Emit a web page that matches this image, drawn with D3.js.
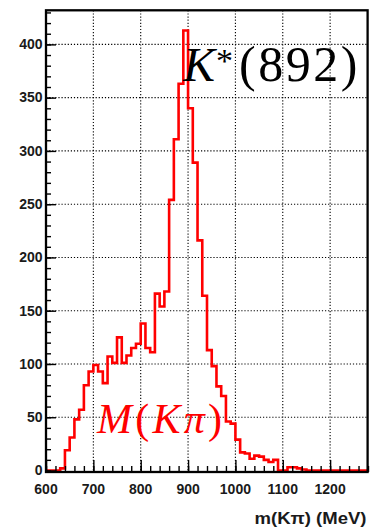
<!DOCTYPE html>
<html>
<head>
<meta charset="utf-8">
<script src="https://cdn.jsdelivr.net/npm/d3@7"></script>
<style>
  html, body { margin: 0; padding: 0; background: #fff; }
  svg { display: block; }
</style>
</head>
<body>
<svg id="chart" width="374" height="529"></svg>
<script>
// Lower edges of the 10 MeV mass bins (MeV)
const massBins = [
  600, 610, 620, 630, 640, 650, 660, 670, 680, 690,
  700, 710, 720, 730, 740, 750, 760, 770, 780, 790,
  800, 810, 820, 830, 840, 850, 860, 870, 880, 890,
  900, 910, 920, 930, 940, 950, 960, 970, 980, 990,
  1000, 1010, 1020, 1030, 1040, 1050, 1060, 1070, 1080, 1090,
  1100, 1110, 1120, 1130, 1140, 1150, 1160, 1170, 1180, 1190,
  1200, 1210, 1220, 1230, 1240, 1250, 1260, 1270
];
// Entries per bin
const counts = [
  0, 0, 0, 2, 19, 31, 48, 57, 80, 93,
  99, 93, 82, 107, 101, 125, 101, 108, 115, 119,
  138, 115, 111, 166, 154, 168, 254, 311, 363, 413,
  340, 289, 216, 164, 113, 98, 79, 70, 46, 44,
  29, 17, 16, 11, 14, 13, 10, 8, 10, 0,
  0, 3, 3, 2, 1, 0, 0, 0, 0, 0,
  0, 0, 0, 0, 0, 0, 0, 0
];
const binWidth = 10;
const xDomain = [600, 1280];
const yDomain = [0, 432];
const xTicks = [600, 700, 800, 900, 1000, 1100, 1200];
const yTicks = [0, 50, 100, 150, 200, 250, 300, 350, 400];
const xMinorStep = 20;
const yMinorStep = 10;
const xTitle = "m(Kπ) (MeV)";

const svg = d3.select("#chart");
const frame = { left: 46, right: 367.6, top: 10.3, bottom: 472 };

const x = d3.scaleLinear().domain(xDomain).range([frame.left, 368]);
const y = d3.scaleLinear().domain(yDomain).range([470.5, frame.top]);

svg.append("rect").attr("width", 374).attr("height", 529).attr("fill", "#fff");

// dotted grid
const grid = svg.append("g")
  .attr("stroke", "#000").attr("stroke-width", 1.1)
  .attr("stroke-dasharray", "1.2,1.9").attr("fill", "none");
xTicks.filter(v => v > xDomain[0]).forEach(v => {
  grid.append("line").attr("x1", x(v)).attr("x2", x(v))
    .attr("y1", frame.top).attr("y2", frame.bottom);
});
yTicks.filter(v => v > 0).forEach(v => {
  grid.append("line").attr("x1", frame.left).attr("x2", frame.right)
    .attr("y1", y(v)).attr("y2", y(v));
});

// histogram outline
const pts = massBins.map((m, i) => [m, counts[i]]);
pts.push([massBins[massBins.length - 1] + binWidth, counts[counts.length - 1]]);
const line = d3.line().x(d => x(d[0])).y(d => y(d[1])).curve(d3.curveStepAfter);
svg.append("path").datum(pts)
  .attr("d", line)
  .attr("fill", "none")
  .attr("stroke", "#ff0000")
  .attr("stroke-width", 2.6)
  .attr("stroke-linejoin", "miter");

// axes built from D3 axis generators, ticks pointing into the frame
const xMinor = d3.range(xDomain[0], xDomain[1] + 1, xMinorStep);
const yMinor = d3.range(yDomain[0], yDomain[1], yMinorStep);

const xAxisMinor = d3.axisTop(x).tickValues(xMinor).tickSize(6).tickFormat("");
const xAxisMajor = d3.axisTop(x).tickValues(xTicks).tickSize(12).tickFormat("");
const yAxisMinor = d3.axisRight(y).tickValues(yMinor).tickSize(5).tickFormat("");
const yAxisMajor = d3.axisRight(y).tickValues(yTicks).tickSize(10).tickFormat("");

[xAxisMinor, xAxisMajor].forEach(ax => {
  const g = svg.append("g").attr("transform", `translate(0,${frame.bottom})`).call(ax);
  g.select(".domain").remove();
  g.selectAll("line").attr("stroke", "#000").attr("stroke-width", 1.4);
});
[yAxisMinor, yAxisMajor].forEach(ax => {
  const g = svg.append("g").attr("transform", `translate(${frame.left},0)`).call(ax);
  g.select(".domain").remove();
  g.selectAll("line").attr("stroke", "#000").attr("stroke-width", 1.4);
});

// frame
svg.append("rect")
  .attr("x", frame.left).attr("y", frame.top)
  .attr("width", frame.right - frame.left).attr("height", frame.bottom - frame.top)
  .attr("fill", "none").attr("stroke", "#000").attr("stroke-width", 2.3);

// tick labels
const labelFont = "'Liberation Sans', Arial, Helvetica, sans-serif";
svg.append("g").selectAll("text").data(xTicks).join("text")
  .attr("x", d => x(d)).attr("y", 494)
  .attr("text-anchor", "middle")
  .attr("font-family", labelFont).attr("font-weight", "bold")
  .attr("font-size", 14).attr("fill", "#1a1a1a")
  .text(d => d);
svg.append("g").selectAll("text").data(yTicks).join("text")
  .attr("x", 42.5).attr("y", d => y(d) + 4.8)
  .attr("text-anchor", "end")
  .attr("font-family", labelFont).attr("font-weight", "bold")
  .attr("font-size", 14).attr("fill", "#1a1a1a")
  .text(d => d);

// axis title
svg.append("text")
  .attr("x", 366.5).attr("y", 523.5)
  .attr("text-anchor", "end")
  .attr("font-family", labelFont).attr("font-weight", "bold")
  .attr("font-size", 17).attr("fill", "#1a1a1a")
  .attr("textLength", 112).attr("lengthAdjust", "spacingAndGlyphs")
  .text(xTitle);

// resonance label: italic K, superscript star, then the mass in parentheses
const serif = "'Liberation Serif', 'Times New Roman', serif";
const kLabel = svg.append("text")
  .attr("x", 183).attr("y", 81)
  .attr("font-family", serif)
  .attr("font-size", 48).attr("fill", "#000");
kLabel.append("tspan").attr("font-style", "italic").text("K");
kLabel.append("tspan").attr("font-size", 34).attr("dx", 1).attr("dy", -9).text("*");
kLabel.append("tspan").attr("x", 239).attr("y", 81).attr("font-size", 50)
  .attr("letter-spacing", 2.5).text("(892)");

// mass label
const mLabel = svg.append("text")
  .attr("x", 97).attr("y", 432.5)
  .attr("font-family", serif).attr("font-size", 42).attr("fill", "#ff0000")
  .attr("textLength", 125).attr("lengthAdjust", "spacing");
mLabel.append("tspan").attr("font-style", "italic").text("M");
mLabel.append("tspan").text("(");
mLabel.append("tspan").attr("font-style", "italic").text("Kπ");
mLabel.append("tspan").text(")");
</script>
</body>
</html>
